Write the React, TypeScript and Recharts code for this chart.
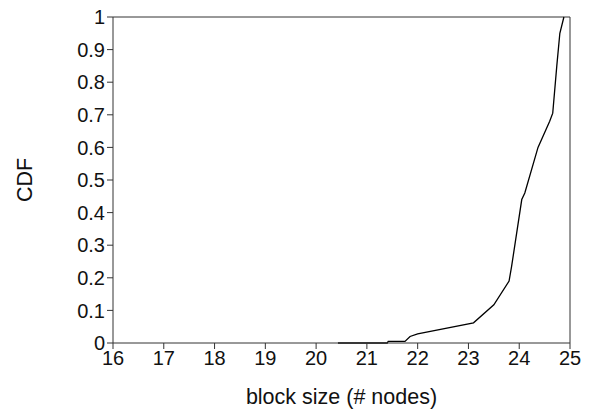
import React from 'react';
import { LineChart, Line, XAxis, YAxis, ReferenceLine } from 'recharts';

const blockSize = [20.43, 21.4, 21.42, 21.75, 21.85, 22.0, 23.1, 23.5, 23.8, 23.85, 24.05, 24.11, 24.37, 24.6, 24.66, 24.74, 24.8, 24.88];
const cdf = [0, 0, 0.005, 0.005, 0.02, 0.028, 0.062, 0.117, 0.19, 0.235, 0.44, 0.46, 0.6, 0.68, 0.705, 0.85, 0.95, 1.0];

const xTicks = [16, 17, 18, 19, 20, 21, 22, 23, 24, 25];
const yTicks = [0, 0.1, 0.2, 0.3, 0.4, 0.5, 0.6, 0.7, 0.8, 0.9, 1];

const data = blockSize.map((x, i) => ({ x, y: cdf[i] }));

const font = { fontFamily: '"Liberation Sans", Arial, sans-serif', fontSize: 20, fill: '#111' };
const title = { position: 'absolute' as const, fontFamily: '"Liberation Sans", Arial, sans-serif', fontSize: 21.5, color: '#111' };

export default function App() {
  return <div style={{ position: 'absolute', left: 0, top: 0 }}>
      <LineChart width={592} height={409} data={data} margin={{ top: 17, right: 22, left: 0, bottom: 0 }}>
        <XAxis dataKey="x" type="number" domain={[16, 25]} ticks={xTicks} height={66} stroke="#333" tick={font} />
        <YAxis type="number" domain={[0, 1]} ticks={yTicks} width={113} stroke="#333" tick={font} />
        <ReferenceLine x={25} stroke="#333" />
        <ReferenceLine y={1} stroke="#333" />
        <Line dataKey="y" type="linear" stroke="#000" strokeWidth={1.3} dot={false} isAnimationActive={false} />
      </LineChart>
      <div style={{ ...title, left: 113, width: 457, top: 387, lineHeight: 1, textAlign: 'center' }}>
        block size (# nodes)
      </div>
      <div style={{ ...title, left: -25, top: 168, width: 100, height: 24, lineHeight: '24px', textAlign: 'center', transform: 'rotate(-90deg)' }}>
        CDF
      </div>
    </div>;
}
